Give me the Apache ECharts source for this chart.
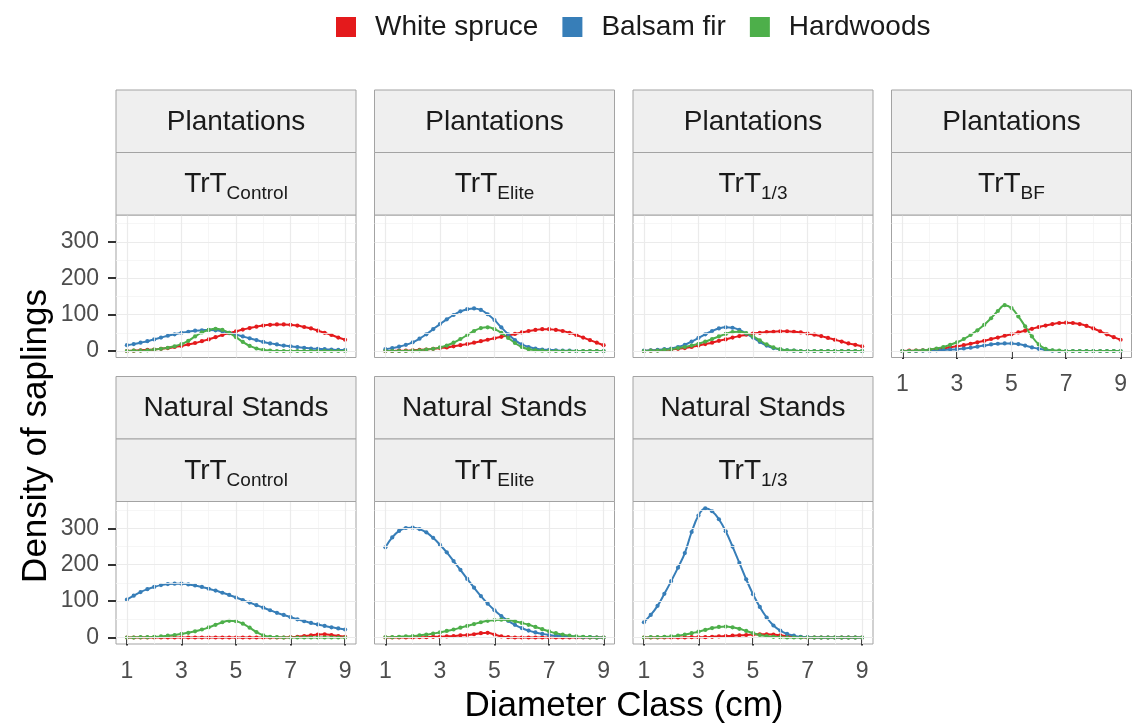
<!DOCTYPE html>
<html><head><meta charset="utf-8">
<script src="https://cdn.jsdelivr.net/npm/echarts@6/dist/echarts.min.js"></script>
<style>html,body{margin:0;padding:0;background:#fff}#c{width:1133px;height:727px}</style>
</head><body><div id="c"></div>
<script>
// ---------- data ----------
const diameterClass = [1,1.25,1.5,1.75,2,2.25,2.5,2.75,3,3.25,3.5,3.75,4,4.25,4.5,4.75,5,5.25,5.5,5.75,6,6.25,6.5,6.75,7,7.25,7.5,7.75,8,8.25,8.5,8.75,9];
const speciesNames = ['White spruce','Balsam fir','Hardwoods'];
const standTypes = ['Plantations','Plantations','Plantations','Plantations','Natural Stands','Natural Stands','Natural Stands'];
const treatmentSubs = ['Control','Elite','1/3','BF','Control','Elite','1/3'];
const xTickValues = [1,3,5,7,9];
const yTickValues = [0,100,200,300];
const xMinorGrid = [2,4,6,8];
const yMinorGrid = [50,150,250,350];

// Plantations – TrT Control
const plantControlWS = [0,1,2,3,4,6,8,11,14,18,22,27,32,38,44,49,54,59,63,67,70,72,73,73,72,70,66,62,56,50,44,37,31];
const plantControlBF = [16,19,23,27,32,37,42,46,50,53,56,57,58,57,54,50,45,40,35,30,25,21,18,15,13,11,9,7,6,5,4,3,3];
const plantControlHW = [0,1,1,2,4,6,9,13,19,28,40,51,58,61,58,50,38,25,14,7,3,1,0,0,0,0,0,0,0,0,0,0,0];
// Plantations – TrT Elite
const plantEliteWS = [0,0,1,1,2,3,4,6,8,10,13,16,19,23,27,31,35,39,43,47,51,55,58,60,60,58,55,50,44,37,30,23,16];
const plantEliteBF = [5,8,12,17,24,34,46,60,74,87,99,109,115,117,113,101,85,65,46,30,18,11,7,4,3,2,1,1,0,0,0,0,0];
const plantEliteHW = [0,0,0,0,1,2,4,6,10,15,23,33,44,55,63,65,60,50,36,22,11,5,2,1,0,0,0,0,0,0,0,0,0];
// Plantations – TrT 1/3
const plantThirdWS = [0,1,2,3,4,6,8,11,15,19,23,28,32,37,41,45,48,50,52,53,54,54,53,51,48,45,41,36,31,26,21,17,13];
const plantThirdBF = [1,2,3,5,7,11,17,26,36,46,55,62,65,64,58,48,37,25,15,8,4,2,1,0,0,0,0,0,0,0,0,0,0];
const plantThirdHW = [0,1,1,3,5,8,11,15,20,26,33,40,47,52,53,49,40,29,18,10,5,2,1,0,0,0,0,0,0,0,0,0,0];
// Plantations – TrT BF
const plantBFWS = [0,1,1,2,3,5,7,10,13,16,20,24,28,33,37,42,46,51,56,61,66,70,74,77,78,77,74,69,62,54,46,38,31];
const plantBFBF = [0,0,0,1,1,2,3,4,5,7,9,12,15,18,20,21,21,19,15,10,6,3,1,0,0,0,0,0,0,0,0,0,0];
const plantBFHW = [0,0,1,2,4,7,11,17,24,33,44,57,72,90,110,126,118,95,68,40,18,6,2,1,0,0,0,0,0,0,0,0,0];
// Natural Stands – TrT Control
const natControlWS = [0,0,0,0,0,0,0,0,0,0,0,0,0,0,0,0,0,0,0,0,0,0,0,0,1,2,4,6,8,9,7,4,2];
const natControlBF = [104,115,125,133,139,144,147,148,148,146,143,139,134,129,123,117,110,103,96,89,82,75,68,62,56,50,45,40,36,32,28,25,22];
const natControlHW = [0,0,1,1,2,3,5,7,10,13,17,22,28,35,42,46,45,38,27,15,6,2,1,0,0,0,0,0,0,0,0,0,0];
// Natural Stands – TrT Elite
const natEliteWS = [0,0,0,0,0,1,1,2,2,3,4,6,7,9,12,13,8,3,1,0,0,0,0,0,0,0,0,0,0,0,0,0,0];
const natEliteBF = [248,275,293,301,302,298,289,274,255,234,210,186,161,137,114,93,75,59,46,35,26,19,14,10,7,5,4,3,2,1,1,0,0];
const natEliteHW = [1,1,2,3,4,6,8,11,14,18,22,27,32,37,42,46,48,49,48,45,40,35,29,23,17,12,8,5,3,2,1,0,0];
// Natural Stands – TrT 1/3
const natThirdWS = [0,0,0,0,0,0,0,1,1,1,2,3,4,5,6,7,8,9,9,8,6,4,2,1,0,0,0,0,0,0,0,0,0];
const natThirdBF = [42,62,87,120,155,192,232,290,335,355,347,325,292,250,205,160,119,84,55,33,19,10,5,2,1,0,0,0,0,0,0,0,0];
const natThirdHW = [0,1,1,2,3,5,8,12,16,21,26,29,30,28,24,18,12,7,4,2,1,0,0,0,0,0,0,0,0,0,0,0,0];

const panelData = [
  [plantControlWS, plantControlBF, plantControlHW],
  [plantEliteWS, plantEliteBF, plantEliteHW],
  [plantThirdWS, plantThirdBF, plantThirdHW],
  [plantBFWS, plantBFBF, plantBFHW],
  [natControlWS, natControlBF, natControlHW],
  [natEliteWS, natEliteBF, natEliteHW],
  [natThirdWS, natThirdBF, natThirdHW]
];

// ---------- layout / style ----------
const FONT = '"Liberation Sans", Arial, Helvetica, sans-serif';
const colors = ['#E41A1C','#377EB8','#4DAF4A'];
const colLeft = [116, 374.5, 633, 891.5];
const rowTop = [215, 501.5];
const panelW = 240, panelH = 142.5, stripH = 62.5;
const panelPos = [[0,0],[0,1],[0,2],[0,3],[1,0],[1,1],[1,2]];
const showXAxisLabels = [false,false,false,true,true,true,true];
const showYAxisLabels = [true,false,false,false,true,false,false];

const grids = [], xAxes = [], yAxes = [], series = [], graphics = [];

panelPos.forEach(([r, c], i) => {
  const left = colLeft[c], top = rowTop[r];
  grids.push({left: left, top: top, width: panelW, height: panelH, show: true,
    borderColor: '#a3a3a3', borderWidth: 1, backgroundColor: '#fff', containLabel: false});
  xAxes.push({gridIndex: i, type: 'value', min: 0.6, max: 9.4,
    axisLine: {show: false}, splitLine: {show: false},
    axisTick: {show: showXAxisLabels[i], customValues: xTickValues, length: 8, lineStyle: {color: '#333', width: 2}},
    axisLabel: {show: showXAxisLabels[i], customValues: xTickValues, color: '#4d4d4d', fontSize: 23, fontFamily: FONT, margin: 16}});
  yAxes.push({gridIndex: i, type: 'value', min: -17.8, max: 373.8,
    axisLine: {show: false}, splitLine: {show: false},
    axisTick: {show: showYAxisLabels[i], customValues: yTickValues, length: 8, lineStyle: {color: '#333', width: 2}},
    axisLabel: {show: showYAxisLabels[i], customValues: yTickValues, color: '#4d4d4d', fontSize: 23, fontFamily: FONT, margin: 17}});

  const major = {color: '#ebebeb', width: 1.2, type: 'solid'};
  const minor = {color: '#f4f4f4', width: 0.8, type: 'solid'};
  series.push({type: 'line', xAxisIndex: i, yAxisIndex: i, data: [], silent: true, z: 1,
    markLine: {silent: true, symbol: ['none','none'], label: {show: false}, animation: false,
      emphasis: {disabled: true},
      data: [].concat(
        yMinorGrid.map(v => ({yAxis: v, lineStyle: minor})),
        xMinorGrid.map(v => ({xAxis: v, lineStyle: minor})),
        yTickValues.map(v => ({yAxis: v, lineStyle: major})),
        xTickValues.map(v => ({xAxis: v, lineStyle: major})))}});

  panelData[i].forEach((vals, s) => {
    series.push({type: 'line', name: speciesNames[s], xAxisIndex: i, yAxisIndex: i,
      data: diameterClass.map((x, k) => [x, vals[k]]),
      smooth: 0.4, symbol: 'circle', symbolSize: 4.2, showSymbol: true, showAllSymbol: true,
      lineStyle: {width: 2, color: colors[s]}, itemStyle: {color: colors[s]}, z: 3});
  });

  // strips
  const s1Top = top - 2 * stripH, s2Top = top - stripH;
  graphics.push({type: 'rect', shape: {x: left, y: s1Top, width: panelW, height: stripH},
    style: {fill: '#efefef', stroke: '#a3a3a3', lineWidth: 1}, z: 10});
  graphics.push({type: 'rect', shape: {x: left, y: s2Top, width: panelW, height: stripH},
    style: {fill: '#efefef', stroke: '#a3a3a3', lineWidth: 1}, z: 10});
  graphics.push({type: 'text', x: left + panelW / 2, y: s1Top + stripH / 2 + 1, z: 11,
    style: {text: standTypes[i], fontSize: 28, fontFamily: FONT, fill: '#1a1a1a',
      textAlign: 'center', textVerticalAlign: 'middle'}});
  graphics.push({type: 'text', x: left + panelW / 2, y: s2Top + stripH / 2 + 2, z: 11,
    style: {text: '{a|TrT}{b|' + treatmentSubs[i] + '}', fontFamily: FONT, fill: '#1a1a1a',
      textAlign: 'center', textVerticalAlign: 'middle',
      rich: {a: {fontSize: 28, fontFamily: FONT, fill: '#1a1a1a', lineHeight: 30, verticalAlign: 'top'},
             b: {fontSize: 19, fontFamily: FONT, fill: '#1a1a1a', lineHeight: 20, padding: [14,0,0,0], verticalAlign: 'top'}}}});
});

graphics.push({type: 'text', x: 36, y: 436, rotation: Math.PI / 2, z: 11,
  style: {text: 'Density of saplings', fontSize: 35, fontFamily: FONT, fill: '#000',
    textAlign: 'center', textVerticalAlign: 'middle'}});
graphics.push({type: 'text', x: 624, y: 706, z: 11,
  style: {text: 'Diameter Class (cm)', fontSize: 35, fontFamily: FONT, fill: '#000',
    textAlign: 'center', textVerticalAlign: 'middle'}});

const chart = echarts.init(document.getElementById('c'), null, {renderer: 'canvas'});
chart.setOption({
  animation: false,
  backgroundColor: '#fff',
  color: colors,
  legend: {data: speciesNames, left: 331, top: 8, icon: 'rect', itemWidth: 20, itemHeight: 20, itemGap: 24,
    textStyle: {fontSize: 28, fontFamily: FONT, color: '#1a1a1a', padding: [0,0,0,14]}},
  grid: grids, xAxis: xAxes, yAxis: yAxes, series: series, graphic: graphics
});
</script></body></html>
